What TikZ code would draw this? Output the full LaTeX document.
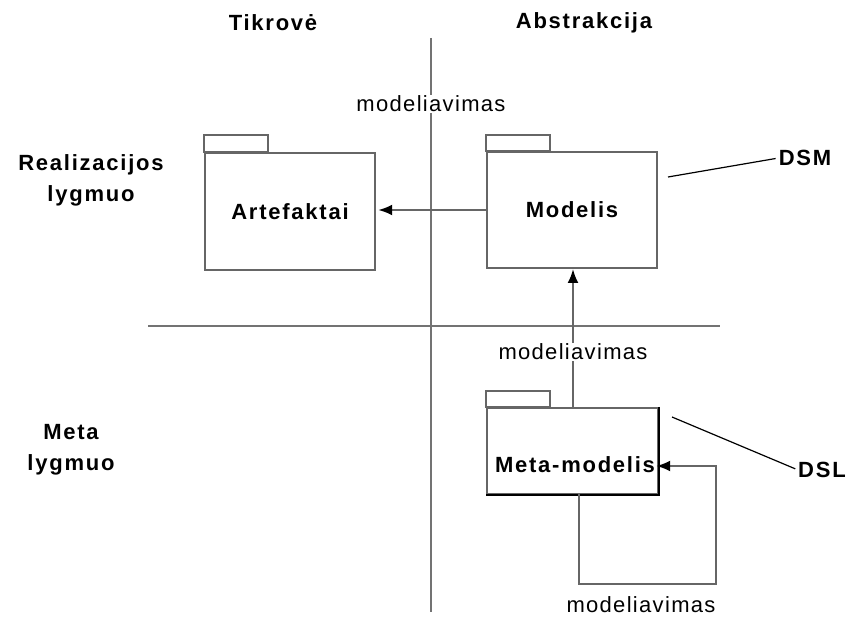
\documentclass[tikz,border=0pt]{standalone}
\usepackage{fontspec}
\setmainfont{Liberation Sans}[LetterSpace=6,BoldFeatures={LetterSpace=8}]
\usetikzlibrary{arrows.meta}
\begin{document}
\begin{tikzpicture}[x=1pt,y=-1pt,
  every node/.style={font=\fontsize{22}{31}\selectfont, inner sep=0pt},
  pkg/.style={draw=black!60, line width=2.4pt, minimum width=170pt, fill=none},
  tab/.style={draw=black!60, line width=2.4pt},
  axis/.style={draw=black!55, line width=2.4pt},
  conn/.style={draw=black!60, line width=2.2pt, -{Latex[length=14pt,width=11pt,black]}},
  lbl/.style={fill=white, inner sep=1pt},
  ttl/.style={font=\fontsize{22}{31}\selectfont\bfseries, align=center},
  lead/.style={draw=black, line width=1.2pt, shorten >=3pt}]
\useasboundingbox (0,0) rectangle (862,617);
% axes
\coordinate (vtop) at (431,38);
\coordinate (vbot) at (431,612);
\coordinate (hl) at (148,326);
\coordinate (hr) at (720,326);
\draw[axis] (vtop) -- (vbot);
\draw[axis] (hl) -- (hr);
% headings
\node[ttl] (tik) at (273,23) {Tikrovė};
\node[ttl] (abs) at (584,23) {Abstrakcija};
\node[ttl] (real) at (91,180) {Realizacijos\\lygmuo};
\node[ttl] (meta) at (71,450) {Meta\\lygmuo};
% packages
\node[pkg, minimum height=117pt] (art) at (290,211.5) {};
\draw[tab] (art.north west) rectangle ++(64,-17);
\node[ttl] at (art) {Artefaktai};
\node[pkg, minimum height=116pt] (mod) at (572,210) {};
\draw[tab] (mod.north west) rectangle ++(64,-16);
\node[ttl] at (mod) {Modelis};
\node[pkg, minimum height=86pt, minimum width=171pt] (mm) at (572.5,451) {};
\draw[tab] (mm.north west) rectangle ++(64,-16);
\draw[draw=black, line width=2.4pt] (mm.north east) -- (mm.south east) -- (mm.south west);
\node[ttl, fill=white, inner sep=1pt] (mmt) at (575,465) {Meta-modelis};
% connectors
\draw[conn] (mod.west) -- ([xshift=2pt]art.east |- mod.west);
\coordinate (mtop) at (573,408);
\coordinate (mbot) at (573,269);
\draw[conn] (mtop) -- (mbot);
\node[lbl] (l2) at (573,352) {modeliavimas};
\node[lbl] (l1) at (431,104) {modeliavimas};
\coordinate (s1) at (579,494);
\coordinate (s2) at (579,584);
\coordinate (s3) at (716,584);
\coordinate (s4) at (716,466);
\draw[conn] (s1) -- (s2) -- (s3) -- (s4) -- (mmt.east |- s4);
\node (l3) at (641,605) {modeliavimas};
% leaders
\node[ttl] (dsm) at (805,158) {DSM};
\node[ttl] (dsl) at (822,470) {DSL};
\coordinate (d1) at (668,177);
\coordinate (d2) at (672,417);
\draw[lead] (d1) -- (dsm.west);
\draw[lead] (d2) -- (dsl.west);
\end{tikzpicture}
\end{document}
